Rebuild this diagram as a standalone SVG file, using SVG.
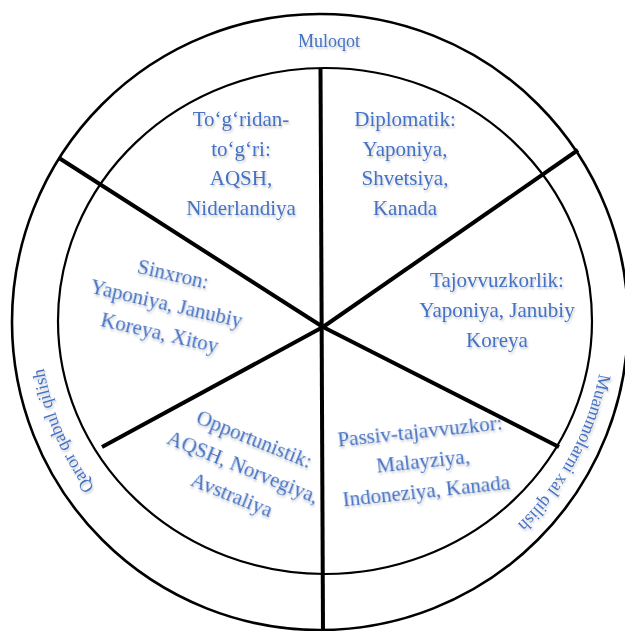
<svg xmlns="http://www.w3.org/2000/svg" width="625" height="631" viewBox="0 0 625 631">
  <style>
    .t { font-family: "Liberation Serif", "Times New Roman", serif; font-size: 21px; fill: #4472C4; text-anchor: middle; filter: url(#sh); }
    .ring { font-family: "Liberation Serif", "Times New Roman", serif; font-size: 18px; fill: #4472C4; filter: url(#sh); }
    .spoke { stroke: #000; stroke-width: 4; fill: none; stroke-linecap: butt; }
  </style>
  <defs>
    <filter id="sh" x="-20%" y="-40%" width="140%" height="180%">
      <feDropShadow dx="1" dy="2" stdDeviation="1.3" flood-color="#000" flood-opacity="0.22"/>
    </filter>
    <path id="ringPath" d="M 604,321 A 282 282 0 1 1 40,321 A 282 282 0 1 1 604,321"/>
  </defs>
  <rect width="625" height="631" fill="#fff"/>

  <g id="circles" fill="none" stroke="#000">
    <circle cx="320" cy="322" r="308" stroke-width="2.6"/>
    <ellipse cx="325" cy="321" rx="267" ry="253" stroke-width="2.2"/>
  </g>

  <g id="connectors">
    <line class="spoke" x1="320.5" y1="68" x2="323" y2="631"/>
    <line class="spoke" x1="59" y1="158" x2="323" y2="327"/>
    <line class="spoke" x1="578" y1="150" x2="323" y2="327"/>
    <line class="spoke" x1="102" y1="447" x2="323" y2="327"/>
    <line class="spoke" x1="559" y1="447" x2="323" y2="327"/>
  </g>

  <g id="ring-muloqot">
    <text class="ring" x="329" y="47" text-anchor="middle">Muloqot</text>
  </g>
  <g id="ring-muammolarni">
    <text class="ring" text-anchor="middle"><textPath href="#ringPath" startOffset="140">Muammolarni xal qilish</textPath></text>
  </g>
  <g id="ring-qaror">
    <text class="ring" text-anchor="middle"><textPath href="#ringPath" startOffset="773">Qaror qabul qilish</textPath></text>
  </g>

  <g id="node-togridan">
    <text class="t" x="241" y="126">To‘g‘ridan-</text>
    <text class="t" x="241" y="155.5">to‘g‘ri:</text>
    <text class="t" x="241" y="185">AQSH,</text>
    <text class="t" x="241" y="214.5">Niderlandiya</text>
  </g>
  <g id="node-diplomatik">
    <text class="t" x="405" y="126">Diplomatik:</text>
    <text class="t" x="405" y="155.5">Yaponiya,</text>
    <text class="t" x="405" y="185">Shvetsiya,</text>
    <text class="t" x="405" y="214.5">Kanada</text>
  </g>
  <g id="node-tajovvuzkorlik">
    <text class="t" x="497" y="287">Tajovvuzkorlik:</text>
    <text class="t" x="497" y="317">Yaponiya, Janubiy</text>
    <text class="t" x="497" y="347">Koreya</text>
  </g>
  <g id="node-sinxron" transform="translate(173,275) rotate(13)">
    <text class="t" x="0" y="6">Sinxron:</text>
    <text class="t" x="0" y="36">Yaponiya, Janubiy</text>
    <text class="t" x="0" y="66">Koreya, Xitoy</text>
  </g>
  <g id="node-opportunistik" transform="translate(254,440) rotate(22)">
    <text class="t" x="0" y="6">Opportunistik:</text>
    <text class="t" x="0" y="36">AQSH, Norvegiya,</text>
    <text class="t" x="0" y="66">Avstraliya</text>
  </g>
  <g id="node-passiv" transform="translate(420,432) rotate(-6)">
    <text class="t" x="0" y="6">Passiv-tajavvuzkor:</text>
    <text class="t" x="0" y="36">Malayziya,</text>
    <text class="t" x="0" y="66">Indoneziya, Kanada</text>
  </g>
</svg>
